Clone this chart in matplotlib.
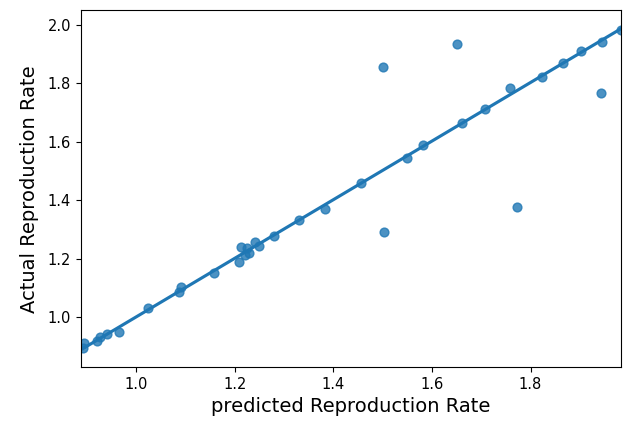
import numpy as np
import seaborn as sns
import matplotlib
matplotlib.use("Agg")
import matplotlib.pyplot as plt

# points that follow the trend
predicted = [0.892, 0.894, 0.921, 0.927, 0.941, 0.965, 1.024, 1.087, 1.091,
             1.157, 1.209, 1.213, 1.220, 1.224, 1.228, 1.242, 1.250, 1.280,
             1.331, 1.384, 1.457, 1.549, 1.581, 1.661, 1.707, 1.758, 1.823,
             1.866, 1.902, 1.945, 1.984]
actual = [0.894, 0.911, 0.921, 0.932, 0.945, 0.952, 1.034, 1.086, 1.103,
          1.151, 1.188, 1.240, 1.212, 1.236, 1.219, 1.257, 1.243, 1.277,
          1.332, 1.370, 1.459, 1.545, 1.589, 1.664, 1.712, 1.784, 1.822,
          1.870, 1.911, 1.942, 1.983]

# points far off the line
predicted_out = [1.500, 1.650, 1.943, 1.772, 1.502]
actual_out = [1.856, 1.935, 1.767, 1.377, 1.291]

x_ticks = [1.0, 1.2, 1.4, 1.6, 1.8]
y_ticks = [1.0, 1.2, 1.4, 1.6, 1.8, 2.0]

fig = plt.figure(figsize=(6.32, 4.25), dpi=100)
ax = fig.add_axes([0.128, 0.136, 0.855, 0.840])

# regression line fitted on the trend points
sns.regplot(x=np.array(predicted), y=np.array(actual), ax=ax, ci=None,
            color="C0", scatter_kws={"s": 40})
sns.regplot(x=np.array(predicted_out), y=np.array(actual_out), ax=ax,
            fit_reg=False, color="C0", scatter_kws={"s": 40})

ax.set_xlim(min(predicted) - 0.004, max(predicted))
ax.set_ylim(0.83, 2.05)
ax.set_xticks(x_ticks)
ax.set_yticks(y_ticks)
ax.tick_params(labelsize=10.5)
ax.set_xlabel("predicted Reproduction Rate", fontsize=14)
ax.set_ylabel("Actual Reproduction Rate", fontsize=14, labelpad=6)

fig.savefig("out.png", dpi=100)
